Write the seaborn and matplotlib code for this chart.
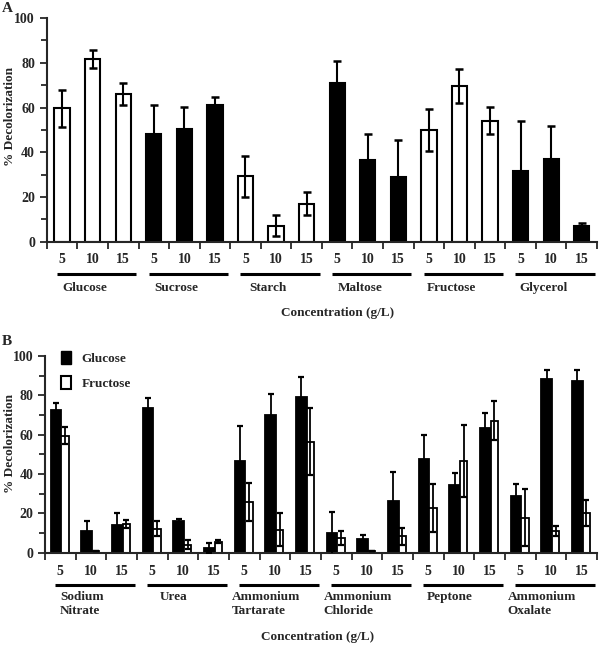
import numpy as np
import pandas as pd
import seaborn as sns
import matplotlib.pyplot as plt
from matplotlib.patches import Patch
from matplotlib.ticker import MultipleLocator

# Panel A - carbon sources
concs = ['5', '10', '15']
carbon = ['Glucose', 'Sucrose', 'Starch', 'Maltose', 'Fructose', 'Glycerol']
carbon_fill = ['open', 'filled', 'open', 'filled', 'open', 'filled']
carbon_val = [59.7, 81.7, 65.9, 48.2, 50.4, 61.0, 29.3, 7.3, 17.0,
              70.8, 36.6, 28.9, 49.9, 69.6, 54.2, 31.8, 37.2, 7.0]
carbon_err = [8.2, 4.0, 4.9, 12.8, 9.9, 3.9, 9.1, 4.6, 5.2,
              10.2, 11.4, 16.5, 9.5, 7.6, 6.2, 22.1, 14.7, 1.5]

# Panel B - nitrogen sources
nitrogen = ['Sodium\nNitrate', 'Urea', 'Ammonium\nTartarate', 'Ammonium\nChloride', 'Peptone', 'Ammonium\nOxalate']
glu_val = [72.5, 11.3, 14.2, 73.4, 16.0, 2.4, 46.9, 70.2, 79.3,
           10.0, 6.9, 26.5, 47.6, 34.6, 63.6, 29.0, 88.5, 87.2]
glu_err = [3.7, 4.7, 6.2, 5.5, 1.2, 2.6, 17.7, 10.4, 9.8,
           10.9, 1.9, 14.8, 12.3, 6.0, 7.6, 6.1, 4.6, 5.9]
fru_val = [59.4, 0.7, 14.8, 12.3, 4.2, 5.6, 26.0, 11.8, 56.5,
           7.4, 0.7, 8.4, 22.8, 46.7, 67.1, 17.9, 11.0, 20.2]
fru_err = [4.3, 0.0, 2.1, 3.7, 2.4, 0.8, 9.6, 8.6, 17.2,
           3.7, 0.0, 4.4, 12.4, 18.4, 9.8, 14.5, 2.5, 6.8]

sns.set_style('ticks')
plt.rcParams['font.family'] = ['Liberation Serif', 'DejaVu Serif']
plt.rcParams['font.weight'] = 'bold'
FS = 9.5

fig = plt.figure(figsize=(6, 6.45), dpi=100)
ax1 = fig.add_axes([0.078, 0.625, 0.917, 0.347])
ax2 = fig.add_axes([0.075, 0.143, 0.920, 0.305])

keysA = [f'{g}|{c}' for g in carbon for c in concs]
dfA = pd.DataFrame({'key': keysA, 'val': carbon_val,
                    'fill': [f for f in carbon_fill for _ in concs]})
sns.barplot(data=dfA, x='key', y='val', hue='fill', palette={'open': 'white', 'filled': 'black'},
            dodge=False, width=0.5, edgecolor='black', linewidth=1.5, legend=False, ax=ax1)
ax1.errorbar(np.arange(len(keysA)), carbon_val, yerr=carbon_err, fmt='none', ecolor='black',
             elinewidth=1.5, capsize=3, capthick=1.8, zorder=5)

keysB = [f'{g}|{c}' for g in nitrogen for c in concs]
dfB = pd.DataFrame({'key': keysB * 2, 'val': glu_val + fru_val,
                    'src': ['Glucose'] * len(keysB) + ['Fructose'] * len(keysB)})
sns.barplot(data=dfB, x='key', y='val', hue='src', palette={'Glucose': 'black', 'Fructose': 'white'},
            dodge=True, width=0.6, edgecolor='black', linewidth=1.3, legend=False, ax=ax2)
# glucose bars wider than fructose bars, as in the original
for p in ax2.patches:
    c = p.get_x() + p.get_width() / 2
    if p.get_facecolor()[0] < 0.5:
        p.set_width(0.35)
        p.set_x(c - 0.175 + 0.005)
    else:
        p.set_width(0.24)
        p.set_x(c - 0.12)
xb = np.arange(len(keysB))
ax2.errorbar(xb - 0.145, glu_val, yerr=glu_err, fmt='none', ecolor='black',
             elinewidth=1.3, capsize=2.5, capthick=1.6, zorder=5)
ax2.errorbar(xb + 0.15, fru_val, yerr=fru_err, fmt='none', ecolor='black',
             elinewidth=1.3, capsize=2.5, capthick=1.6, zorder=5)

ax2.legend(handles=[Patch(facecolor='black', edgecolor='black', label='Glucose'),
                    Patch(facecolor='white', edgecolor='black', linewidth=1.5, label='Fructose')],
           loc='upper left', bbox_to_anchor=(0.008, 1.085), frameon=False, handlelength=0.75,
           handleheight=1.1, handletextpad=0.8, labelspacing=0.85, prop={'size': FS, 'weight': 'bold'})


def style(ax, groups, y_num, y_line, y_grp, y_conc, x_conc, grp_shift):
    ax.set_xlim(-0.5, 17.5)
    ax.set_ylim(0, 100)
    sns.despine(ax=ax)
    for s in ['left', 'bottom']:
        ax.spines[s].set_linewidth(1.5)
    ax.set_yticks(range(0, 101, 20))
    ax.yaxis.set_minor_locator(MultipleLocator(10))
    ax.tick_params(axis='y', which='both', direction='out', width=1.3, labelsize=FS + 0.5)
    ax.tick_params(axis='y', which='major', length=5)
    ax.tick_params(axis='y', which='minor', length=4)
    ax.set_xticks(np.arange(-0.5, 18, 1))
    ax.set_xticklabels([])
    ax.tick_params(axis='x', direction='out', length=5, width=1.3)
    ax.set_xlabel('')
    ax.set_ylabel('')
    tr = ax.get_xaxis_transform()
    for i, g in enumerate(groups):
        for j, c in enumerate(concs):
            ax.text(3 * i + j, y_num, c, transform=tr, ha='center', va='center',
                    fontsize=FS + 0.5, fontweight='bold')
        ax.plot([3 * i - 0.17, 3 * i + 2.43], [y_line, y_line], transform=tr,
                color='black', lw=2.2, clip_on=False, solid_capstyle='butt')
        ax.text(3 * i + 1 - grp_shift, y_grp, g, transform=tr, ha='center', va='top',
                fontsize=FS, fontweight='bold', linespacing=1.25, multialignment='left')
    ax.text(x_conc, y_conc, 'Concentration (g/L)', transform=tr, ha='center', va='center',
            fontsize=FS, fontweight='bold')


style(ax1, carbon, -0.08, -0.143, -0.18, -0.317, 9.02, 0.25)
style(ax2, nitrogen, -0.096, -0.162, -0.195, -0.43, 8.4, 0.3)

fig.text(0.017, 0.819, '% Decolorization', rotation=90, ha='center', va='center',
         fontsize=FS, fontweight='bold')
fig.text(0.017, 0.312, '% Decolorization', rotation=90, ha='center', va='center',
         fontsize=FS, fontweight='bold')
fig.text(0.003, 0.987, 'A', fontsize=11, fontweight='bold', va='center')
fig.text(0.003, 0.471, 'B', fontsize=11, fontweight='bold', va='center')

fig.savefig('out.png', dpi=100)
